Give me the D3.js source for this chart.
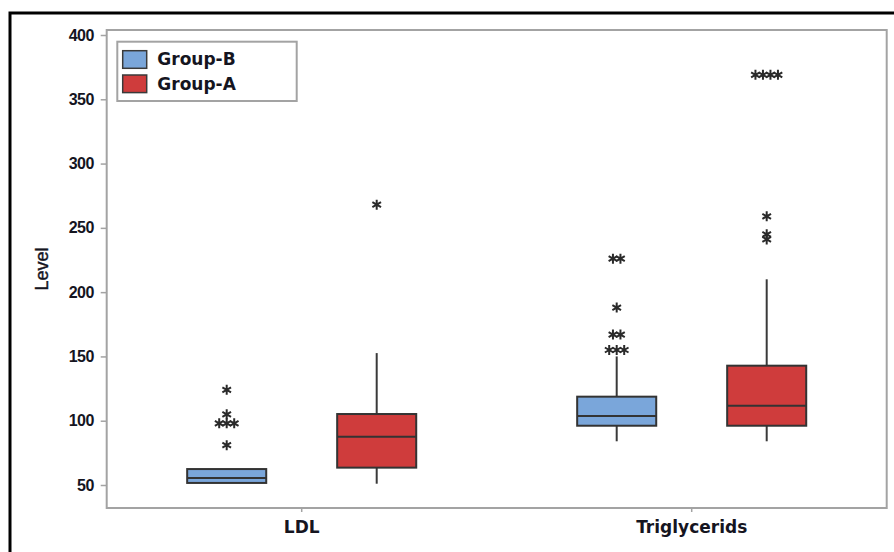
<!DOCTYPE html>
<html>
<head>
<meta charset="utf-8">
<script src="https://cdn.jsdelivr.net/npm/d3@7"></script>
<style>
  html, body { margin: 0; padding: 0; background: #fff; }
  svg { display: block; }
  text { font-family: "DejaVu Sans", "Liberation Sans", Arial, sans-serif; font-weight: bold; fill: #15151f; }
</style>
</head>
<body>
<svg id="chart" width="894" height="552"></svg>
<script>
// Categories, groups and tick values
const categories = ["LDL", "Triglycerids"];
const groups = ["Group-B", "Group-A"];
const groupColors = ["#7aa6da", "#cf3c3c"];
const yTicks = [50, 100, 150, 200, 250, 300, 350, 400];

// Five-number summaries, one entry per category, per group
const whiskerLow = { "Group-B": [51.6, 84], "Group-A": [51, 84] };
const quartile1  = { "Group-B": [51.6, 96.1], "Group-A": [63.5, 96.1] };
const medians    = { "Group-B": [55.4, 103.7], "Group-A": [87.6, 111.7] };
const quartile3  = { "Group-B": [62.4, 118.7], "Group-A": [105.2, 142.8] };
const whiskerHigh = { "Group-B": [62.4, 150], "Group-A": [152.6, 210] };

// Outliers, one list per category, per group
const outliers = {
  "Group-B": [[124, 105, 98, 98, 98, 81], [226, 226, 188, 167, 167, 155, 155, 155]],
  "Group-A": [[268], [369, 369, 369, 369, 259, 245, 241]]
};

const svg = d3.select("#chart");

// Outer black frame
svg.append("rect")
  .attr("x", 10).attr("y", 13)
  .attr("width", 900).attr("height", 560)
  .attr("fill", "none").attr("stroke", "#000").attr("stroke-width", 3);

const plot = { left: 106.7, right: 886.7, top: 30, bottom: 508 };

const y = d3.scaleLinear().domain([50, 400]).range([485, 35]);
const x = d3.scaleBand().domain(categories).range([plot.left, plot.right]).padding(0);
const xg = d3.scalePoint().domain(groups).range([0, x.bandwidth()]).padding(0.8);
const boxW = xg.step() * 0.527;

// Plot frame
svg.append("rect")
  .attr("x", plot.left).attr("y", plot.top)
  .attr("width", plot.right - plot.left).attr("height", plot.bottom - plot.top)
  .attr("fill", "none").attr("stroke", "#a3a3a3").attr("stroke-width", 2);

// Y axis
const yAxis = svg.append("g")
  .attr("transform", `translate(${plot.left},0)`)
  .call(d3.axisLeft(y).tickValues(yTicks).tickSize(6).tickPadding(7));
yAxis.select(".domain").remove();
yAxis.selectAll(".tick line").attr("stroke", "#a3a3a3").attr("stroke-width", 1.5);
yAxis.selectAll(".tick text")
  .style("font-size", "16px").style("font-family", "'Liberation Sans', Arial, sans-serif")
  .style("font-weight", "bold").attr("fill", "#15151f").style("letter-spacing", "-0.6px");

// X axis
const xAxis = svg.append("g")
  .attr("transform", `translate(0,${plot.bottom})`)
  .call(d3.axisBottom(x).tickSize(4).tickPadding(9));
xAxis.select(".domain").remove();
xAxis.selectAll(".tick line").attr("stroke", "#a3a3a3").attr("stroke-width", 1.5);
xAxis.selectAll(".tick text")
  .style("font-size", "17px").style("font-family", "'DejaVu Sans', sans-serif")
  .style("font-weight", "bold").attr("fill", "#15151f");

// Y axis title
svg.append("text")
  .attr("transform", `translate(48,${(plot.top + plot.bottom) / 2}) rotate(-90)`)
  .attr("text-anchor", "middle")
  .style("font-size", "18px")
  .style("font-weight", "normal")
  .style("font-family", "'Liberation Sans', Arial, sans-serif")
  .style("stroke", "#15151f").style("stroke-width", "0.4px")
  .text("Level");

// Boxes
const boxes = [];
groups.forEach((g, gi) => {
  categories.forEach((c, ci) => {
    boxes.push({
      group: g, gi, cat: c,
      lo: whiskerLow[g][ci], q1: quartile1[g][ci], med: medians[g][ci],
      q3: quartile3[g][ci], hi: whiskerHigh[g][ci],
      out: outliers[g][ci],
      cx: x(c) + xg(g)
    });
  });
});

const bg = svg.append("g");
boxes.forEach(b => {
  const g = bg.append("g");
  // whiskers
  g.append("line")
    .attr("x1", b.cx).attr("x2", b.cx)
    .attr("y1", y(b.q3)).attr("y2", y(b.hi))
    .attr("stroke", "#3a3a3a").attr("stroke-width", 2);
  g.append("line")
    .attr("x1", b.cx).attr("x2", b.cx)
    .attr("y1", y(b.q1)).attr("y2", y(b.lo))
    .attr("stroke", "#3a3a3a").attr("stroke-width", 2);
  // box
  g.append("rect")
    .attr("x", b.cx - boxW / 2).attr("y", y(b.q3))
    .attr("width", boxW).attr("height", y(b.q1) - y(b.q3))
    .attr("fill", groupColors[b.gi])
    .attr("stroke", "#333").attr("stroke-width", 2);
  // median
  g.append("line")
    .attr("x1", b.cx - boxW / 2).attr("x2", b.cx + boxW / 2)
    .attr("y1", y(b.med)).attr("y2", y(b.med))
    .attr("stroke", "#333").attr("stroke-width", 2);
  // outliers: tied values are spread side by side
  const counts = d3.rollup(b.out, v => v.length, d => d);
  const seen = new Map();
  const star = d3.symbol(d3.symbolAsterisk, 70);
  b.out.forEach(v => {
    const n = counts.get(v);
    const i = seen.get(v) || 0;
    seen.set(v, i + 1);
    const dx = (i - (n - 1) / 2) * 7.5;
    g.append("path")
      .attr("d", star())
      .attr("transform", `translate(${b.cx + dx},${y(v)})`)
      .attr("fill", "none").attr("stroke", "#2a2a2a").attr("stroke-width", 2);
  });
});

// Legend
const lg = svg.append("g").attr("transform", "translate(117.3,41.7)");
lg.append("rect")
  .attr("width", 179.4).attr("height", 59.3)
  .attr("fill", "#fff").attr("stroke", "#a3a3a3").attr("stroke-width", 2);
groups.forEach((g, i) => {
  const row = lg.append("g").attr("transform", `translate(0,${9 + i * 24.3})`);
  row.append("rect")
    .attr("x", 5.4).attr("y", 0).attr("width", 24).attr("height", 17.6)
    .attr("fill", groupColors[i]).attr("stroke", "#3a3a3a").attr("stroke-width", 1.5);
  row.append("text")
    .attr("x", 40).attr("y", 8.8).attr("dy", "0.35em")
    .style("font-size", "17px")
    .text(g);
});
</script>
</body>
</html>
